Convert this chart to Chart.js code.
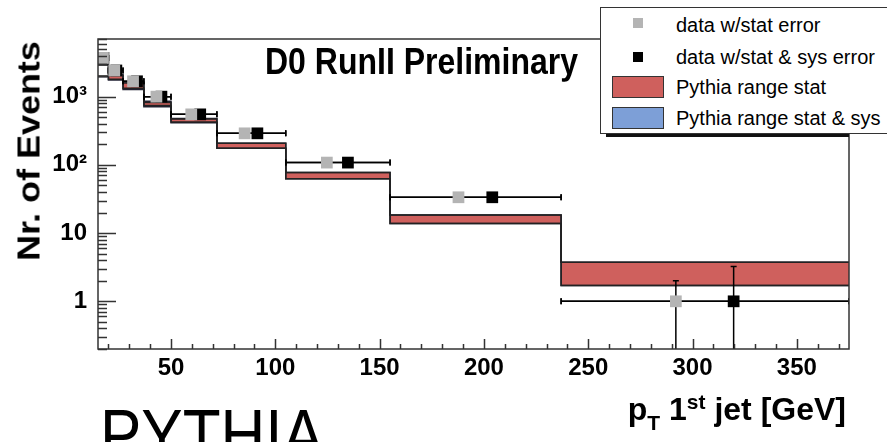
<!DOCTYPE html>
<html>
<head>
<meta charset="utf-8">
<script src="https://cdn.jsdelivr.net/npm/chart.js@4.4.1/dist/chart.umd.min.js"></script>
<style>
  body { margin: 0; background: #fff; }
  #wrap { position: relative; width: 887px; height: 442px; overflow: hidden; background: #fff;
          font-family: 'Liberation Sans', Arial, sans-serif; }
  #c { position: absolute; left: 0; top: 0; }
  .txt { position: absolute; white-space: nowrap; line-height: 1; color: #000; }
  #title { left: 265px; top: 43px; font-size: 32px; font-weight: bold; transform-origin: left top; transform: scaleY(1.13); }
  #ytitle { left: 29px; top: 151px; font-size: 31px; font-weight: bold; transform: translate(-50%, -50%) rotate(-90deg) scaleX(1.16); }
  #xtitle { right: 41px; top: 393px; font-size: 32px; font-weight: bold; }
  #xtitle .sub { font-size: 21px; position: relative; top: 10px; }
  #xtitle .sup { font-size: 21px; position: relative; top: -11px; }
  #pythia { left: 100px; top: 400px; font-size: 62px; transform-origin: left top; transform: scaleY(1.13); }
  #legShadow { position: absolute; left: 606px; top: 133px; width: 243px; height: 4px; background: #111; }
  #legend { position: absolute; left: 600px; top: 7px; width: 300px; height: 125px; background: #fff; border: 1.5px solid #333; }
  .leg { position: absolute; }
  .legtxt { position: absolute; left: 676px; font-size: 20px; line-height: 1; white-space: nowrap; transform: translateY(-50%); }
</style>
</head>
<body>
<div id="wrap">
  <canvas id="c" width="887" height="442"></canvas>
  <div class="txt" id="title">D0 RunII Preliminary</div>
  <div class="txt" id="ytitle">Nr. of Events</div>
  <div class="txt" id="xtitle">p<span class="sub">T</span> 1<span class="sup">st</span> jet [GeV]</div>
  <div class="txt" id="pythia">PYTHIA</div>
  <div id="legShadow"></div>
  <div id="legend"></div>
</div>
<script>
// bin edges of the leading jet pT histogram [GeV]
const binEdges = [15, 20, 27, 37, 50, 72, 105, 155, 237, 375];

// data, plotted twice with a small horizontal offset
const dataY = [3700, 2420, 1680, 1000, 550, 290, 108, 33.5, 1];
const grayX = [17.4, 22.8, 31.8, 43.0, 59.7, 85.3, 124.7, 187.8, 292];
const blackX = [17.6, 23.8, 33.7, 45.4, 64.0, 91.4, 134.8, 204, 319.7];
const grayHi = [3810, 2490, 1730, 1030, 567, 299, 111, 34.5, 2.0];
const grayLo = [3590, 2350, 1630, 970, 533, 281, 105, 32.5, 0];
const blackHi = [4140, 2710, 1880, 1120, 616, 325, 121, 37.5, 3.24];
const blackLo = [3260, 2130, 1480, 880, 484, 255, 95, 29.5, 0];

// pythia bands per bin
const redHigh = [2900, 2050, 1580, 820, 470, 207, 77, 18.4, 3.75];
const redLow = [2000, 1800, 1330, 740, 425, 175, 62.5, 13.8, 1.71];
const blueHigh = [2950, 2100, 1645, 855, 480, 207, 77, 18.4, 3.75];
const blueLow = [1950, 1750, 1275, 710, 415, 175, 62.5, 13.8, 1.71];

// axes
const xTicks = [50, 100, 150, 200, 250, 300, 350];
const yTicks = [1, 10, 100, 1000];
const yTickLabels = ['1', '10', '10\u00b2', '10\u00b3'];

const legendLabels = ['data w/stat error', 'data w/stat & sys error', 'Pythia range stat', 'Pythia range stat & sys'];

const RED = '#cf605d';
const BLUE = '#7d9fd7';
const GRAY = '#b4b4b4';

// legend (html overlay)
const wrap = document.getElementById('wrap');
const legItems = [
  { style: `left:633px;top:18px;width:10px;height:10px;background:${GRAY}`, y: 25 },
  { style: 'left:633px;top:52px;width:10px;height:10px;background:#000', y: 57 },
  { style: `left:612px;top:76px;width:50px;height:20px;background:${RED};border:1.5px solid #333`, y: 87 },
  { style: `left:612px;top:107px;width:50px;height:20px;background:${BLUE};border:1.5px solid #333`, y: 118 }
];
legItems.forEach((it, i) => {
  const sw = document.createElement('div');
  sw.className = 'leg';
  sw.style.cssText = it.style;
  wrap.appendChild(sw);
  const t = document.createElement('div');
  t.className = 'legtxt';
  t.style.top = it.y + 'px';
  t.textContent = legendLabels[i];
  wrap.appendChild(t);
});

const stepPoints = vals => binEdges.map((e, i) => ({ x: e, y: vals[Math.min(i, vals.length - 1)] }));
const markPoints = xs => xs.map((x, i) => ({ x, y: dataY[i] }));

// first bin of the bands is left unfilled
const firstWhite = { backgroundColor: ctx => (ctx.p0DataIndex === 0 ? '#ffffff' : undefined) };

// error bars + inside ticks + frame
const hepStyle = {
  id: 'hepStyle',
  beforeDatasetDraw(chart, args) {
    if (args.index !== 1) return;
    const { ctx, chartArea: a } = chart;
    const xs = chart.scales.x, ys = chart.scales.y;
    const yPix = v => (v > 0 ? ys.getPixelForValue(v) : a.bottom + 5);
    ctx.save();
    ctx.beginPath();
    ctx.rect(a.left, a.top, a.right - a.left, a.bottom - a.top);
    ctx.clip();
    ctx.strokeStyle = '#000';
    ctx.lineWidth = 1.5;
    const series = [[grayX, grayLo, grayHi], [blackX, blackLo, blackHi]];
    series.forEach(([xv, lo, hi]) => {
      xv.forEach((x, i) => {
        const px = xs.getPixelForValue(x);
        const py = ys.getPixelForValue(dataY[i]);
        const x0 = xs.getPixelForValue(binEdges[i]);
        const x1 = xs.getPixelForValue(binEdges[i + 1]);
        const yh = yPix(hi[i]), yl = yPix(lo[i]);
        ctx.beginPath();
        ctx.moveTo(x0, py); ctx.lineTo(x1, py);
        ctx.moveTo(x0, py - 3); ctx.lineTo(x0, py + 3);
        ctx.moveTo(x1, py - 3); ctx.lineTo(x1, py + 3);
        ctx.moveTo(px, yh); ctx.lineTo(px, yl);
        ctx.moveTo(px - 3, yh); ctx.lineTo(px + 3, yh);
        ctx.moveTo(px - 3, yl); ctx.lineTo(px + 3, yl);
        ctx.stroke();
      });
    });
    ctx.restore();
  },
  afterDatasetsDraw(chart) {
    const { ctx, chartArea: a } = chart;
    const xs = chart.scales.x, ys = chart.scales.y;
    ctx.save();
    ctx.strokeStyle = '#333';
    ctx.lineWidth = 1.5;
    ctx.beginPath();
    for (let d = -1; d <= 3; d++) {
      for (let m = 1; m <= 9; m++) {
        const v = m * Math.pow(10, d);
        if (v < ys.min || v > ys.max) continue;
        const py = Math.round(ys.getPixelForValue(v)) + 0.5;
        ctx.moveTo(a.left, py);
        ctx.lineTo(a.left + (m === 1 ? 18 : 9), py);
      }
    }
    for (let v = 20; v < xs.max; v += 10) {
      const px = Math.round(xs.getPixelForValue(v)) + 0.5;
      ctx.moveTo(px, a.bottom);
      ctx.lineTo(px, a.bottom - (v % 50 === 0 ? 10 : 5));
    }
    ctx.stroke();
    ctx.strokeRect(a.left, a.top, a.right - a.left, a.bottom - a.top);
    ctx.restore();
  }
};

new Chart(document.getElementById('c'), {
  type: 'line',
  data: {
    datasets: [
      { data: markPoints(grayX), showLine: false, pointStyle: 'rect', pointRadius: 8.3,
        pointBackgroundColor: GRAY, pointBorderWidth: 0, order: 0 },
      { data: markPoints(blackX), showLine: false, pointStyle: 'rect', pointRadius: 8.3,
        pointBackgroundColor: '#000', pointBorderWidth: 0, order: 1 },
      { data: stepPoints(redHigh), stepped: true, fill: '+1', backgroundColor: RED, segment: firstWhite,
        borderColor: '#222', borderWidth: 1.5, pointRadius: 0, order: 2 },
      { data: stepPoints(redLow), stepped: true, fill: false,
        borderColor: '#222', borderWidth: 1.5, pointRadius: 0, order: 2 },
      { data: stepPoints(blueHigh), stepped: true, fill: '+1', backgroundColor: BLUE, segment: firstWhite,
        borderColor: '#223', borderWidth: 1.5, pointRadius: 0, order: 3 },
      { data: stepPoints(blueLow), stepped: true, fill: false,
        borderColor: '#223', borderWidth: 1.5, pointRadius: 0, order: 3 }
    ]
  },
  options: {
    responsive: false,
    animation: false,
    events: [],
    layout: { padding: { left: 0, right: 38, top: 39, bottom: 0 } },
    plugins: {
      legend: { display: false },
      tooltip: { enabled: false },
      filler: { drawTime: 'beforeDatasetsDraw' }
    },
    scales: {
      x: {
        type: 'linear', min: 15, max: 375,
        grid: { display: false, drawTicks: false },
        border: { display: false },
        afterBuildTicks: s => { s.ticks = xTicks.map(v => ({ value: v })); },
        afterFit: s => { s.height = 93; },
        ticks: { padding: 5, color: '#000', maxRotation: 0,
                 font: { family: 'Liberation Sans', weight: 'bold', size: 24 } }
      },
      y: {
        type: 'logarithmic', min: 0.2, max: 7000,
        grid: { display: false, drawTicks: false },
        border: { display: false },
        afterBuildTicks: s => { s.ticks = yTicks.map(v => ({ value: v })); },
        afterFit: s => { s.width = 98; },
        ticks: { padding: 11, color: '#000',
                 font: { family: 'Liberation Sans', weight: 'bold', size: 24 },
                 callback: v => yTickLabels[yTicks.indexOf(v)] }
      }
    }
  },
  plugins: [hepStyle]
});
</script>
</body>
</html>
